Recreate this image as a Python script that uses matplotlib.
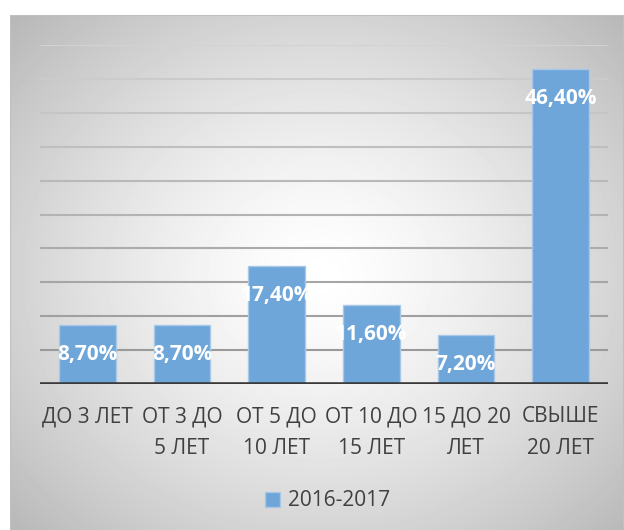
# -*- coding: utf-8 -*-
"""Стаж работы: распределение по группам (2016-2017)."""

import numpy as np
import matplotlib
import matplotlib.pyplot as plt
from matplotlib.patches import Patch, Rectangle

matplotlib.use("Agg")

plt.rcParams["font.family"] = ["Open Sans", "DejaVu Sans"]

# ============================================================
# Данные
# ============================================================
categories = ["ДО 3 ЛЕТ", "ОТ 3 ДО\n5 ЛЕТ", "ОТ 5 ДО\n10 ЛЕТ",
              "ОТ 10 ДО\n15 ЛЕТ", "15 ДО 20\nЛЕТ", "СВЫШЕ\n20 ЛЕТ"]
values = [8.7, 8.7, 17.4, 11.6, 7.2, 46.4]
value_labels = ["8,70%", "8,70%", "17,40%", "11,60%", "7,20%", "46,40%"]
series_name = "2016-2017"
y_ticks = [5, 10, 15, 20, 25, 30, 35, 40, 45, 50]

BAR_COLOR = "#6fa6d9"
BAR_EDGE = "#a8c8e8"
TEXT_COLOR = "#404040"

W, H = 624, 530
fig = plt.figure(figsize=(W / 100, H / 100), dpi=100)
fig.patch.set_facecolor("white")

# --- фон области диаграммы: радиальный градиент ---
px0, py0 = 10, 15  # левый верхний угол панели, пиксели
bg = fig.add_axes([px0 / W, 0, 1 - px0 / W, 1 - py0 / H], zorder=0)
yy, xx = np.mgrid[py0:H, px0:W]
cx, cy, rx, ry = 320, 275, 430, 370
r = np.sqrt(((xx - cx) / rx) ** 2 + ((yy - cy) / ry) ** 2)
shade = 255 - 72 * np.clip(r, 0, 1.1) ** 1.4
bg.imshow(shade, cmap="gray", vmin=0, vmax=255, aspect="auto",
          interpolation="bilinear")
bg.add_patch(Rectangle((-0.5, -0.5), W - px0, H - py0 + 5, fill=False,
                       edgecolor="#c0c0c0", linewidth=1.5))
bg.set_axis_off()

# --- основная ось ---
ax_left, ax_right, ax_bottom, ax_top = 40, 608, 384, 45
ax = fig.add_axes([ax_left / W, 1 - ax_bottom / H,
                   (ax_right - ax_left) / W, (ax_bottom - ax_top) / H],
                  zorder=1)
ax.set_facecolor("none")

x = np.arange(len(categories))
ax.set_xlim(-0.5, len(categories) - 0.5)
ax.set_ylim(0, 50)

# линии сетки с градиентом (светлее вверху)
for yv in y_ticks:
    t = yv / 50
    g = int(148 + 62 * t)
    ax.axhline(yv, color=f"#{g:02x}{g:02x}{g:02x}", linewidth=1.5, zorder=1)

ax.bar(x, values, width=0.6, color=BAR_COLOR, edgecolor=BAR_EDGE,
       linewidth=1, zorder=2)

ax.axhline(0, color="#3a3a3a", linewidth=2.6, zorder=3)

for xi, v, lab in zip(x, values, value_labels):
    ax.annotate(lab, (xi, v), xytext=(0, -29), textcoords="offset pixels",
                ha="center", va="center", color="white", fontsize=15,
                fontweight="bold", zorder=4)

ax.set_xticks(x)
ax.set_xticklabels(categories, fontsize=15, color=TEXT_COLOR,
                   linespacing=1.65)
ax.tick_params(axis="x", length=0, pad=16)
ax.set_yticks([])
for s in ax.spines.values():
    s.set_visible(False)

# легенда
fig.legend(handles=[Patch(facecolor=BAR_COLOR, edgecolor=BAR_EDGE)],
           labels=[series_name], loc="center",
           bbox_to_anchor=(328 / W, 1 - 501 / H), frameon=False,
           fontsize=15, handlelength=0.7, handleheight=0.7,
           handletextpad=0.4, labelcolor=TEXT_COLOR)

fig.savefig("out.png", dpi=100)
